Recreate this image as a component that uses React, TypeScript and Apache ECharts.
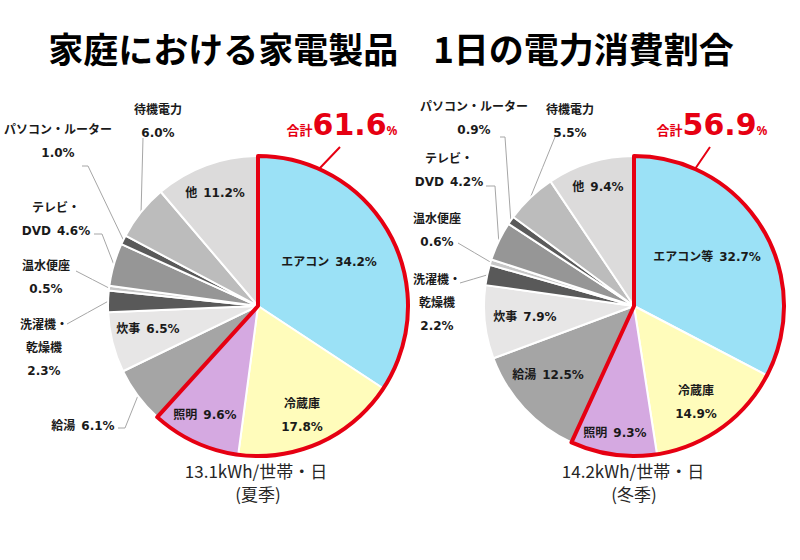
import React, { useEffect, useRef } from "react";
import * as echarts from "echarts";

const TITLE = "家庭における家電製品　1日の電力消費割合";

const summerNames = ["エアコン", "冷蔵庫", "照明", "給湯", "炊事", "洗濯機・\n乾燥機", "温水便座", "テレビ・\nDVD", "パソコン・ルーター", "待機電力", "他"];
const winterNames = ["エアコン等", "冷蔵庫", "照明", "給湯", "炊事", "洗濯機・\n乾燥機", "温水便座", "テレビ・\nDVD", "パソコン・ルーター", "待機電力", "他"];
const summerValues = [34.2, 17.8, 9.6, 6.1, 6.5, 2.3, 0.5, 4.6, 1.0, 6.0, 11.2];
const winterValues = [32.7, 14.9, 9.3, 12.5, 7.9, 2.2, 0.6, 4.2, 0.9, 5.5, 9.4];
const labelSeparators = ["\u2002", "\n", "\u2002", "\u2002", "\u2002", "\n", "\n", "\u2002", "\n", "\n", "\u2002"];
const highlightCount = 3;

const summerUsage = "13.1kWh/世帯・日";
const summerSeason = "(夏季)";
const winterUsage = "14.2kWh/世帯・日";
const winterSeason = "(冬季)";

// styles & layout (not data)
const sliceColors = ["#9BE1F6", "#FFFCBB", "#D5A9E1", "#A5A5A5", "#E7E6E6", "#595959", "#C8C8C8", "#969696", "#5A5A5A", "#BCBCBC", "#DCDBDB"];
const RED = "#E60012";
const R = 150;
const leftCenter = [258, 306];
const rightCenter = [634, 306];

type LabelPos = { x: number; y: number; line?: number[][] };
const summerLabelPos: LabelPos[] = [
  { x: 329, y: 262 },
  { x: 302, y: 415 },
  { x: 205, y: 415 },
  { x: 83, y: 426, line: [[125, 428], [118, 428]] },
  { x: 148, y: 329 },
  { x: 44, y: 348, line: [[67, 324]] },
  { x: 46, y: 277, line: [[76, 271]] },
  { x: 56, y: 219, line: [[102, 234], [94, 234]] },
  { x: 58, y: 141, line: [[88, 166], [82, 166]] },
  { x: 158, y: 121, line: [[143, 138]] },
  { x: 215, y: 193 },
];
const winterLabelPos: LabelPos[] = [
  { x: 707, y: 257 },
  { x: 696, y: 402 },
  { x: 615, y: 433 },
  { x: 548, y: 375 },
  { x: 525, y: 317 },
  { x: 437, y: 303, line: [[460, 283]] },
  { x: 437, y: 230, line: [[458, 243]] },
  { x: 449, y: 170, line: [[495, 186], [486, 186]] },
  { x: 474, y: 118, line: [[505, 137], [500, 137]] },
  { x: 570, y: 121, line: [[555, 137]] },
  { x: 598, y: 187 },
];

const labelFont = {
  fontFamily: "'DejaVu Sans', 'Noto Sans CJK JP', sans-serif",
  fontSize: 12,
  fontWeight: "bold" as const,
  color: "#1A1A1A",
  lineHeight: 23,
};

function edgePoint(center: number[], frac: number) {
  const a = frac * Math.PI * 2;
  return [center[0] + R * Math.sin(a), center[1] - R * Math.cos(a)];
}

function buildPie(names: string[], values: number[], center: number[], pos: LabelPos[]) {
  const total = values.reduce((s, v) => s + v, 0);
  const mids: number[] = [];
  let cum = 0;
  values.forEach((v) => {
    mids.push((cum + v / 2) / total);
    cum += v;
  });
  const data = values.map((v, i) => {
    const outside = !!pos[i].line;
    return {
      name: names[i],
      value: v,
      itemStyle: { color: sliceColors[i] },
      label: {
        position: outside ? "outside" : "inside",
        formatter: `${names[i]}${labelSeparators[i]}${v.toFixed(1)}%`,
      },
      labelLine: { show: outside },
    };
  });
  return {
    type: "pie",
    center,
    radius: [0, R],
    startAngle: 90,
    clockwise: true,
    avoidLabelOverlap: false,
    silent: true,
    itemStyle: { borderColor: "#fff", borderWidth: 2 },
    label: { show: true, ...labelFont },
    labelLine: { show: true, length: 5, length2: 5, lineStyle: { color: "#A6A6A6", width: 1 } },
    labelLayout: (params: any) => {
      const p = pos[params.dataIndex];
      const res: any = { x: p.x, y: p.y, align: "center", verticalAlign: "middle", hideOverlap: false };
      if (p.line) {
        const start = edgePoint(center, mids[params.dataIndex]);
        let pts = [start, ...p.line];
        if (pts.length === 2) {
          pts = [start, [(start[0] + p.line[0][0]) / 2, (start[1] + p.line[0][1]) / 2], p.line[0]];
        }
        res.labelLinePoints = pts;
      }
      return res;
    },
    data,
  };
}

function buildOutline(values: number[], center: number[], labelX: number) {
  const hl = values.slice(0, highlightCount).reduce((s, v) => s + v, 0);
  const rest = values.slice(highlightCount).reduce((s, v) => s + v, 0);
  const hlText = hl.toFixed(1);
  const start = edgePoint(center, 24 / 360);
  const end = [labelX - 2, 147];
  return {
    type: "pie",
    center,
    radius: [0, R],
    startAngle: 90,
    clockwise: true,
    silent: true,
    z: 5,
    avoidLabelOverlap: false,
    data: [
      {
        value: hl,
        itemStyle: { color: "rgba(0,0,0,0)", borderColor: RED, borderWidth: 4, borderJoin: "round" },
        label: {
          show: true,
          position: "outside",
          formatter: `{a|合計}{b|${hlText}}{c|%}`,
          rich: {
            a: { fontFamily: "'Noto Sans CJK JP', sans-serif", fontSize: 13, fontWeight: "bold", color: RED, verticalAlign: "bottom", padding: [0, 0, 3, 0] },
            b: { fontFamily: "'DejaVu Sans', sans-serif", fontSize: 30, fontWeight: "bold", color: RED },
            c: { fontFamily: "'Noto Sans', sans-serif", fontSize: 12, fontWeight: "bold", color: RED, verticalAlign: "bottom", padding: [0, 0, 3, 0] },
          },
        },
        labelLine: { show: true, lineStyle: { color: RED, width: 2 } },
      },
      {
        value: rest,
        itemStyle: { color: "rgba(0,0,0,0)", borderWidth: 0 },
        label: { show: false },
        labelLine: { show: false },
      },
    ],
    labelLayout: (params: any) => {
      if (params.dataIndex !== 0) return {};
      return {
        x: labelX,
        y: 124,
        align: "center",
        verticalAlign: "middle",
        labelLinePoints: [start, [(start[0] + end[0]) / 2, (start[1] + end[1]) / 2], end],
      };
    },
  };
}

export default function App() {
  const ref = useRef<HTMLDivElement>(null);
  useEffect(() => {
    if (!ref.current) return;
    const chart = echarts.init(ref.current, undefined, { renderer: "svg" });
    const subFont = { fontFamily: "'Noto Sans CJK JP', sans-serif", fontSize: 17, fill: "#262626" };
    chart.setOption({
      animation: false,
      backgroundColor: "#fff",
      graphic: [
        {
          type: "text",
          x: 391,
          y: 47,
          style: {
            text: TITLE,
            fontFamily: "'Noto Sans CJK JP', sans-serif",
            fontSize: 35,
            fontWeight: "bold",
            fill: "#000",
            textAlign: "center",
            textVerticalAlign: "middle",
          },
        },
        { type: "text", x: leftCenter[0] - 2, y: 470, style: { ...subFont, text: summerUsage, textAlign: "center", textVerticalAlign: "middle" } },
        { type: "text", x: leftCenter[0], y: 493, style: { ...subFont, text: summerSeason, textAlign: "center", textVerticalAlign: "middle" } },
        { type: "text", x: rightCenter[0] - 1, y: 470, style: { ...subFont, text: winterUsage, textAlign: "center", textVerticalAlign: "middle" } },
        { type: "text", x: rightCenter[0], y: 493, style: { ...subFont, text: winterSeason, textAlign: "center", textVerticalAlign: "middle" } },
      ],
      series: [
        buildPie(summerNames, summerValues, leftCenter, summerLabelPos),
        buildPie(winterNames, winterValues, rightCenter, winterLabelPos),
        buildOutline(summerValues, leftCenter, 342),
        buildOutline(winterValues, rightCenter, 712),
      ],
    });
    return () => chart.dispose();
  }, []);
  return <div ref={ref} style={{ position: "absolute", left: 0, top: 0, width: 800, height: 560 }} />;
}
